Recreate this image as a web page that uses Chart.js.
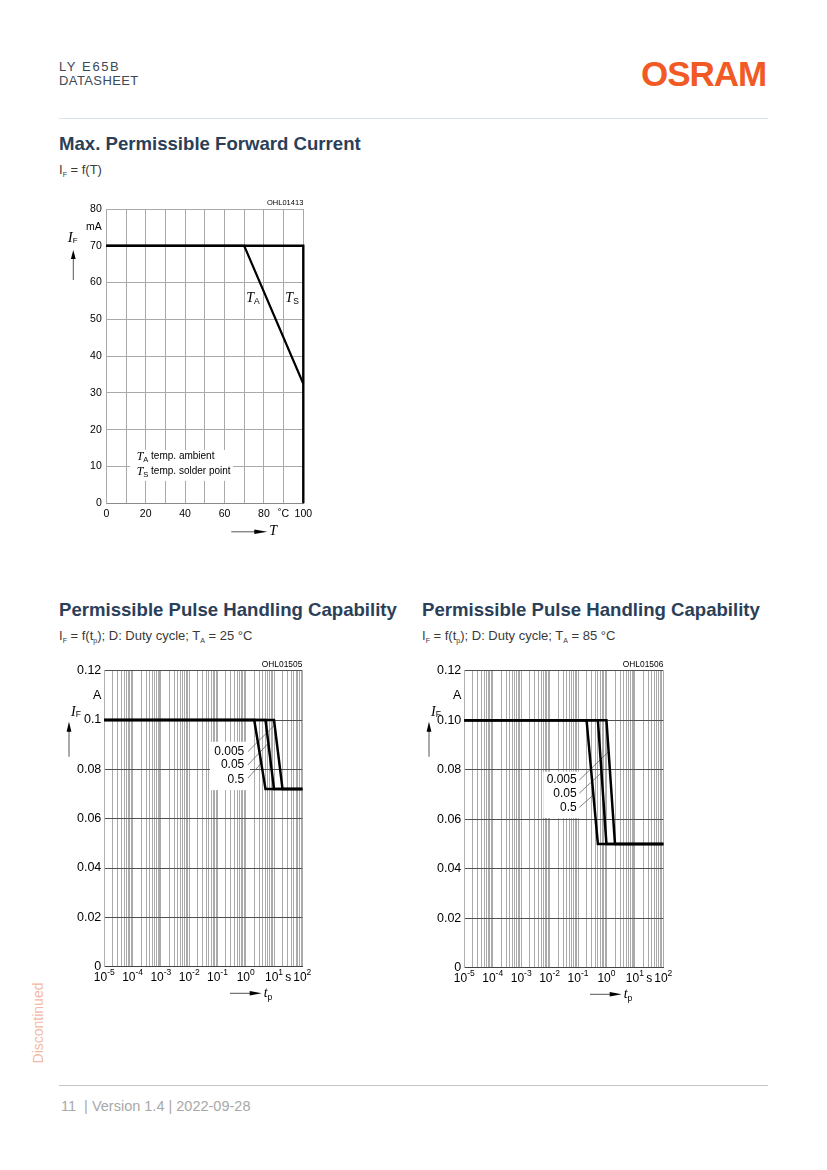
<!DOCTYPE html>
<html>
<head>
<meta charset="utf-8">
<script src="https://cdn.jsdelivr.net/npm/chart.js@4.4.0/dist/chart.umd.min.js"></script>
<style>
  body { margin: 0; background: #fff; font-family: "Liberation Sans", Arial, sans-serif; }
  #page { position: relative; width: 827px; height: 1170px; overflow: hidden; }
  .t { position: absolute; white-space: nowrap; line-height: 1; }
  .rule { position: absolute; height: 1px; }
  .h2 { font-weight: bold; font-size: 18.6px; color: #2b4058; }
  .sub { font-size: 13px; color: #3a3a3a; }
  .sub sub { font-size: 7px; vertical-align: -3px; }
  canvas { position: absolute; }
</style>
</head>
<body>
<div id="page">
  <div class="t" style="left:59px;top:60px;font-size:13px;letter-spacing:1.6px;color:#3c4a58;">LY E65B</div>
  <div class="t" style="left:59px;top:74px;font-size:13px;letter-spacing:0.4px;color:#3c4a58;">DATASHEET</div>
  <div class="t" style="left:641px;top:56px;font-size:35px;font-weight:bold;letter-spacing:-1px;color:#f15a24;">OSRAM</div>
  <div class="rule" style="left:59px;top:118px;width:709px;background:#dde3ea;"></div>

  <div class="t h2" style="left:59px;top:135px;">Max. Permissible Forward Current</div>
  <div class="t sub" style="left:59px;top:163px;">I<sub>F</sub> = f(T)</div>

  <div class="t h2" style="left:59px;top:601px;">Permissible Pulse Handling Capability</div>
  <div class="t sub" style="left:59px;top:629px;">I<sub>F</sub> = f(t<sub>p</sub>); D: Duty cycle; T<sub>A</sub> = 25 °C</div>
  <div class="t h2" style="left:422px;top:601px;">Permissible Pulse Handling Capability</div>
  <div class="t sub" style="left:422px;top:629px;">I<sub>F</sub> = f(t<sub>p</sub>); D: Duty cycle; T<sub>A</sub> = 85 °C</div>

  <canvas id="forward" width="280" height="360" style="left:40px;top:190px;"></canvas>
  <canvas id="pulse25" width="270" height="360" style="left:50px;top:650px;"></canvas>
  <canvas id="pulse85" width="270" height="360" style="left:410px;top:650px;"></canvas>

  <div class="t" style="left:38px;top:1023px;font-size:14px;color:#f4b9a4;transform:translate(-50%,-50%) rotate(-90deg);">Discontinued</div>
  <div class="rule" style="left:59px;top:1085px;width:709px;background:#c4c4c4;"></div>
  <div class="t" style="left:61px;top:1099px;font-size:14.5px;color:#a8a8a8;">11&nbsp; | Version 1.4 | 2022-09-28</div>
</div>

<script>
// Max. permissible forward current
const forwardTempTA = [0, 70, 100];
const forwardCurrentTA = [70, 70, 32.5];
const forwardTempTS = [0, 100, 100];
const forwardCurrentTS = [70, 70, 0];
const forwardXTickValues = [0, 10, 20, 30, 40, 50, 60, 70, 80, 90, 100];
const forwardXTickLabels = ['0', '', '20', '', '40', '', '60', '', '80', '˚C', '100'];
const forwardYTickValues = [0, 10, 20, 30, 40, 50, 60, 70, 75, 80];
const forwardYTickLabels = ['0', '10', '20', '30', '40', '50', '60', '70', 'mA', '80'];

// Pulse handling capability
const pulseDecades = [1e-5, 1e-4, 1e-3, 1e-2, 1e-1, 1e0, 1e1, 1e2];
const pulseDecadeExponents = ['-5', '-4', '-3', '-2', '-1', '0', '1', '2'];
const pulseMinorSteps = [1, 2, 3, 4, 5, 6, 7, 8, 9];
const pulseTimeUnit = 's';
const pulseTimeUnitAt = 32;
const pulseYTickValues = [0, 0.02, 0.04, 0.06, 0.08, 0.1, 0.11, 0.12];
const pulse25YTickLabels = ['0', '0.02', '0.04', '0.06', '0.08', '0.1', 'A', '0.12'];
const pulse85YTickLabels = ['0', '0.02', '0.04', '0.06', '0.08', '0.10', 'A', '0.12'];
const dutyCycles = ['0.005', '0.05', '0.5'];
const pulse25Knee = [10, 5, 2];
const pulse25Foot = [20, 10, 5];
const pulse25High = 0.1;
const pulse25Low = 0.072;
const pulse85Knee = [1, 0.5, 0.2];
const pulse85Foot = [2, 1, 0.5];
const pulse85High = 0.1;
const pulse85Low = 0.05;

const SANS = '"Liberation Sans", Arial, sans-serif';
const SERIF = '"Liberation Serif", "Times New Roman", serif';

Chart.defaults.font.family = SANS;
Chart.defaults.color = '#000';

function drawParts(ctx, x, y, parts, align) {
  let w = 0;
  parts.forEach(p => { ctx.font = p[1]; w += ctx.measureText(p[0]).width; });
  let cx = align === 'right' ? x - w : align === 'center' ? x - w / 2 : x;
  ctx.textBaseline = 'middle';
  ctx.textAlign = 'left';
  parts.forEach(p => {
    ctx.font = p[1];
    ctx.fillText(p[0], cx, y + (p[2] || 0));
    cx += ctx.measureText(p[0]).width;
  });
}

function arrow(ctx, x1, y1, x2, y2, head, half) {
  const a = Math.atan2(y2 - y1, x2 - x1);
  ctx.strokeStyle = '#555';
  ctx.lineWidth = 1;
  ctx.beginPath();
  ctx.moveTo(x1, y1);
  ctx.lineTo(x2 - Math.cos(a) * head * 0.5, y2 - Math.sin(a) * head * 0.5);
  ctx.stroke();
  ctx.fillStyle = '#000';
  ctx.beginPath();
  ctx.moveTo(x2, y2);
  ctx.lineTo(x2 - Math.cos(a) * head - Math.sin(a) * half, y2 - Math.sin(a) * head + Math.cos(a) * half);
  ctx.lineTo(x2 - Math.cos(a) * head + Math.sin(a) * half, y2 - Math.sin(a) * head - Math.cos(a) * half);
  ctx.closePath();
  ctx.fill();
}

const decorPlugin = {
  id: 'decor',
  beforeDatasetsDraw(chart, args, o) {
    const ctx = chart.ctx, xs = chart.scales.x, ys = chart.scales.y;
    ctx.save();
    (o.boxes || []).forEach(b => {
      const x1 = xs.getPixelForValue(b.x[0]), x2 = xs.getPixelForValue(b.x[1]);
      const y1 = ys.getPixelForValue(b.y[1]), y2 = ys.getPixelForValue(b.y[0]);
      ctx.fillStyle = '#fff';
      ctx.fillRect(x1, y1, x2 - x1, y2 - y1);
    });
    (o.leaders || []).forEach(l => {
      ctx.strokeStyle = '#666';
      ctx.lineWidth = 0.8;
      ctx.beginPath();
      ctx.moveTo(xs.getPixelForValue(l[0]), ys.getPixelForValue(l[1]));
      ctx.lineTo(xs.getPixelForValue(l[2]), ys.getPixelForValue(l[3]));
      ctx.stroke();
    });
    (o.texts || []).forEach(t => {
      ctx.fillStyle = '#000';
      drawParts(ctx, xs.getPixelForValue(t.x), ys.getPixelForValue(t.y), t.parts, t.align);
    });
    ctx.restore();
  },
  afterDraw(chart, args, o) {
    const ctx = chart.ctx, a = chart.chartArea, xs = chart.scales.x;
    ctx.save();
    ctx.fillStyle = '#000';
    drawParts(ctx, a.right, a.top - o.codeGap, [[o.code, o.codeFont]], 'right');
    const yt = o.yTitle;
    drawParts(ctx, a.left + yt.dx, a.top + yt.dy, yt.parts, 'left');
    arrow(ctx, a.left + yt.ax, a.top + yt.ay1, a.left + yt.ax, a.top + yt.ay2, yt.head, 2.4);
    const xt = o.xTitle;
    arrow(ctx, a.left + xt.ax1, a.bottom + xt.dy, a.left + xt.ax2, a.bottom + xt.dy, xt.head, 2.2);
    ctx.fillStyle = '#000';
    drawParts(ctx, a.left + xt.ax2 + 2, a.bottom + xt.dy, xt.parts, 'left');
    if (o.logLabels) {
      // decade labels 10^n with a raised exponent, placed by the log scale
      const ly = a.bottom + 10.5;
      pulseDecades.forEach((d, i) => {
        drawParts(ctx, xs.getPixelForValue(d), ly,
          [['10', '12px ' + SANS], [pulseDecadeExponents[i], '8.5px ' + SANS, -4.5]], 'center');
      });
      drawParts(ctx, xs.getPixelForValue(pulseTimeUnitAt), ly, [[pulseTimeUnit, '12px ' + SANS]], 'center');
    }
    ctx.restore();
  }
};

function line(xs, ys, width) {
  return {
    data: xs.map((x, i) => ({ x: x, y: ys[i] })),
    borderColor: '#000',
    borderWidth: width,
    pointRadius: 0,
    tension: 0,
    fill: false,
    clip: 6,
    borderJoinStyle: 'miter'
  };
}

// chart 1
new Chart(document.getElementById('forward'), {
  type: 'line',
  data: {
    datasets: [
      line(forwardTempTA, forwardCurrentTA, 2.2),
      line(forwardTempTS, forwardCurrentTS, 2.4)
    ]
  },
  options: {
    responsive: false,
    animation: false,
    layout: { padding: { left: 30, top: 19, right: 16.7, bottom: 26.7 } },
    plugins: {
      legend: { display: false },
      tooltip: { enabled: false },
      decor: {
        code: 'OHL01413', codeFont: '7.5px ' + SANS, codeGap: 6.5,
        yTitle: {
          dx: -38.5, dy: 29, ax: -33, ay1: 71, ay2: 41, head: 9,
          parts: [['I', 'italic 15px ' + SERIF], ['F', '8px ' + SANS, 3]]
        },
        xTitle: {
          ax1: 125, ax2: 161, dy: 28.5, head: 13,
          parts: [['T', 'italic 14px ' + SERIF]]
        },
        boxes: [{ x: [12.1, 64.3], y: [6.1, 14.5] }],
        texts: [
          { x: 74.5, y: 55.7, align: 'center', parts: [['T', 'italic 14px ' + SERIF], ['A', '8.5px ' + SANS, 3.5]] },
          { x: 94.3, y: 55.7, align: 'center', parts: [['T', 'italic 14px ' + SERIF], ['S', '8.5px ' + SANS, 3.5]] },
          { x: 15.4, y: 12.7, align: 'left', parts: [['T', 'italic 12px ' + SERIF], ['A', '7.5px ' + SANS, 3], [' temp. ambient', '10px ' + SANS]] },
          { x: 15.4, y: 8.6, align: 'left', parts: [['T', 'italic 12px ' + SERIF], ['S', '7.5px ' + SANS, 3], [' temp. solder point', '10px ' + SANS]] }
        ]
      }
    },
    scales: {
      x: {
        type: 'linear', min: 0, max: 100,
        afterBuildTicks: s => { s.ticks = forwardXTickValues.map(v => ({ value: v })); },
        afterFit: s => { s.height = 20; },
        ticks: {
          autoSkip: false, maxRotation: 0, padding: 5, font: { size: 10.5 },
          callback: (v, i) => forwardXTickLabels[i]
        },
        grid: { color: '#aaaaaa', drawTicks: false, lineWidth: 1 },
        border: { color: '#8a8a8a' }
      },
      y: {
        type: 'linear', min: 0, max: 80,
        afterBuildTicks: s => { s.ticks = forwardYTickValues.map(v => ({ value: v })); },
        afterFit: s => { s.width = 36.3; },
        ticks: {
          autoSkip: false, padding: 4.5, font: { size: 10.5 },
          callback: (v, i) => forwardYTickLabels[i]
        },
        grid: {
          drawTicks: false, lineWidth: 1,
          color: c => (c.tick && c.tick.value % 10 !== 0) ? 'rgba(0,0,0,0)' : '#aaaaaa'
        },
        border: { color: '#aaaaaa' }
      }
    }
  },
  plugins: [decorPlugin]
});

function pulseTicks() {
  const out = [];
  pulseDecades.forEach((d, i) => {
    if (i === pulseDecades.length - 1) { out.push({ value: d }); return; }
    pulseMinorSteps.forEach(m => out.push({ value: d * m }));
  });
  return out;
}

function pulseChart(id, knee, foot, high, low, yLabels, decor) {
  const sets = dutyCycles.map((d, i) => line([1e-5, knee[i], foot[i], 1e2], [high, high, low, low], 2.5));
  new Chart(document.getElementById(id), {
    type: 'line',
    data: { datasets: sets },
    options: {
      responsive: false,
      animation: false,
      layout: { padding: decor.padding },
      plugins: { legend: { display: false }, tooltip: { enabled: false }, decor: decor },
      scales: {
        x: {
          type: 'logarithmic', min: 1e-5, max: 1e2,
          afterBuildTicks: s => { s.ticks = pulseTicks(); },
          afterFit: s => { s.height = 20; },
          ticks: { autoSkip: false, maxRotation: 0, padding: 4, callback: () => '' },
          grid: { color: '#ababab', drawTicks: false, lineWidth: 1 },
          border: { color: '#444' }
        },
        y: {
          type: 'linear', min: 0, max: 0.12,
          afterBuildTicks: s => { s.ticks = pulseYTickValues.map(v => ({ value: v })); },
          afterFit: s => { s.width = 40.3; },
          ticks: {
            autoSkip: false, padding: 3, font: { size: 12.5 },
            callback: (v, i) => yLabels[i]
          },
          grid: {
            drawTicks: false, lineWidth: 1,
            color: c => (c.tick && Math.abs(c.tick.value - 0.11) < 1e-9) ? 'rgba(0,0,0,0)' : '#505050'
          },
          border: { color: '#b0b0b0' }
        }
      }
    },
    plugins: [decorPlugin]
  });
}

function pulseTitles(code) {
  return {
    code: code, codeFont: '8.4px ' + SANS, codeGap: 5.7, logLabels: true,
    yTitle: {
      dx: -33.3, dy: 41.3, ax: -35.3, ay1: 86, ay2: 51, head: 10,
      parts: [['I', 'italic 14px ' + SERIF], ['F', '8.5px ' + SANS, 3]]
    },
    xTitle: {
      ax1: 125.7, ax2: 157.4, dy: 26.6, head: 12,
      parts: [['t', 'italic 14px ' + SERIF], ['p', '8.5px ' + SANS, 4]]
    }
  };
}

const decor25 = Object.assign(pulseTitles('OHL01505'), {
  padding: { left: 14, top: 20.7, right: 17.7, bottom: 23.3 },
  boxes: [{ x: [0.0545, 1.41], y: [0.0716, 0.0912] }],
  leaders: [
    [1.2, 0.0872, 10.5, 0.098],
    [1.2, 0.0818, 6.3, 0.0906],
    [1.2, 0.0765, 3.55, 0.0825]
  ],
  texts: [
    { x: 0.89, y: 0.0871, align: 'right', parts: [[dutyCycles[0], '12px ' + SANS]] },
    { x: 0.89, y: 0.0817, align: 'right', parts: [[dutyCycles[1], '12px ' + SANS]] },
    { x: 0.89, y: 0.0760, align: 'right', parts: [[dutyCycles[2], '12px ' + SANS]] }
  ]
});

const decor85 = Object.assign(pulseTitles('OHL01506'), {
  padding: { left: 14, top: 20.7, right: 16.7, bottom: 22.3 },
  boxes: [{ x: [0.006, 0.135], y: [0.0605, 0.0792] }],
  leaders: [
    [0.111, 0.0758, 1.19, 0.0873],
    [0.111, 0.0705, 0.67, 0.0788],
    [0.111, 0.0648, 0.347, 0.0698]
  ],
  texts: [
    { x: 0.0897, y: 0.0758, align: 'right', parts: [[dutyCycles[0], '12px ' + SANS]] },
    { x: 0.0897, y: 0.0705, align: 'right', parts: [[dutyCycles[1], '12px ' + SANS]] },
    { x: 0.0897, y: 0.0647, align: 'right', parts: [[dutyCycles[2], '12px ' + SANS]] }
  ]
});

pulseChart('pulse25', pulse25Knee, pulse25Foot, pulse25High, pulse25Low, pulse25YTickLabels, decor25);
pulseChart('pulse85', pulse85Knee, pulse85Foot, pulse85High, pulse85Low, pulse85YTickLabels, decor85);
</script>
</body>
</html>
